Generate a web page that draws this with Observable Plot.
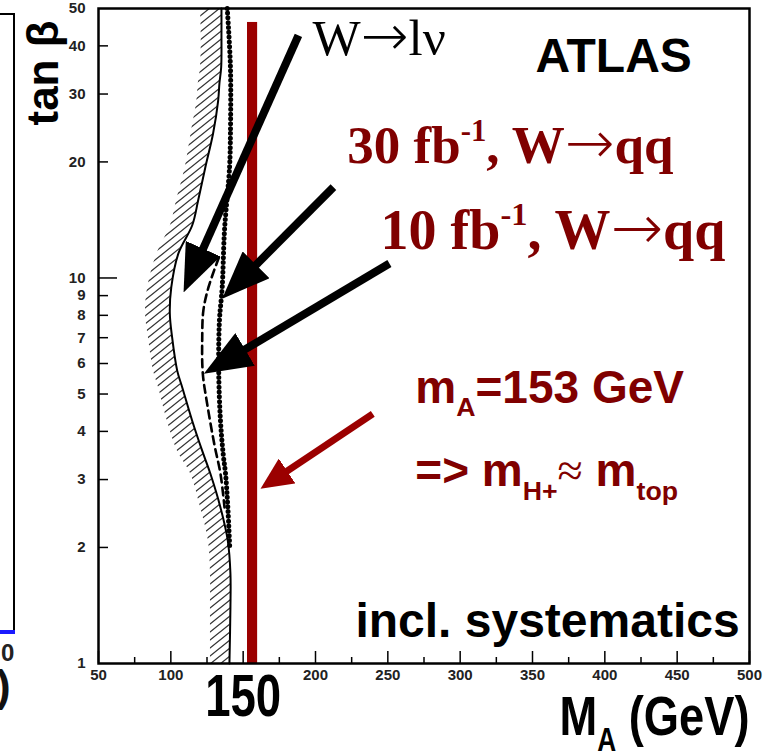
<!DOCTYPE html>
<html><head><meta charset="utf-8">
<script src="https://cdn.jsdelivr.net/npm/d3@7"></script>
<script src="https://cdn.jsdelivr.net/npm/@observablehq/plot@0.6"></script>
<style>
html,body{margin:0;padding:0;background:#fff;}
#wrap{position:relative;width:766px;height:753px;overflow:hidden;background:#fff;}
#wrap svg{position:absolute;left:0;top:0;}
.frag{position:absolute;z-index:2;font-family:"Liberation Sans",Arial,sans-serif;font-weight:bold;line-height:1;}
</style></head><body>
<div id="wrap">
<div class="frag" style="left:13px;top:13px;width:2px;height:620px;background:#000"></div>
<div class="frag" style="left:0;top:13px;width:15px;height:2px;background:#000"></div>
<div class="frag" style="left:0;top:630px;width:15px;height:4px;background:#1a1aff"></div>
<span class="frag" style="left:1px;top:641px;font-size:24px;color:#222">0</span>
<span class="frag" style="left:-4px;top:664px;font-size:44px;color:#111">)</span>
</div>
<script>
// ---- axis ticks / labels ----
const tanbTicks = [1,2,3,4,5,6,7,8,9,10,20,30,40,50];
const ySmallTicks = [2,3,4,5,6,7,8,9,20,30,40];
const yBigTicks = [10];
const maTickLabels = [50,100,200,250,300,350,400,450,500];
const maMajorTicks = [50,100,150,200,250,300,350,400,450,500];
const maMinorTicks = [75,125,175,225,275,325,375,425,475];
const bigTick = [150];

// ---- W -> l nu contour (solid) and hatch edge ----
const lnuTanb = [50,43.1,35.2,32,28.8,23.7,19.4,15.9,13.7,11.6,9.45,8.09,7.01,5.75,5.2,4.27,3.57,3.11,2.54,2.08,1.71,1.40,1.0];
const lnuMA   = [135,135,134.8,133.6,132.7,129.2,123.9,118.9,114.8,105.3,100.3,99.3,100.9,104.4,107.9,114.7,121.6,127.3,134.3,139.4,141.2,141.2,140.5];
const hatchMA = [120.5,121,120.5,119,118,114,110,104,99.8,90.6,84,82.5,84.5,88,91.5,97.5,104.4,113.6,120.5,126,127.4,127.4,127.4];

// ---- 10 fb-1, W -> qq (dashed) ----
const qq10Tanb = [11.3,9.45,8.24,7.01,5.65,4.72,3.68,3.11,2.54];
const qq10MA   = [133.2,126.0,122.5,121.7,122.1,125.1,130.2,134.3,137.1];

// ---- 30 fb-1, W -> qq (dotted) ----
const qq30Tanb = [50,35.2,23.7,19.4,13.3,9.45,7.76,5.75,4.27,3.46,3.11,2.54,2.0];
const qq30MA   = [139.0,141.2,141.2,140.6,137.1,135.5,133.6,133.1,134.3,136.3,137.8,139.4,140.7];

// ---- m_A = 153 GeV band ----
const bandMA = [153, 160];
const bandTanb = [1, 46];

// ---- arrows ----
const arrowFromMA   = [188.2, 212.4, 251.1];
const arrowFromTanb = [42.6, 17.2, 10.9];
const arrowToMA     = [108.8, 135.5, 122.8];
const arrowToTanb   = [9.17, 8.83, 5.64];
const redArrowFrom = [239.6, 4.44];
const redArrowTo   = [162.0, 2.84];

// ---- annotations ----
const noteText = ["W→lν", "ATLAS", "30 fb^{-1}, W→qq", "10 fb^{-1}, W→qq", "m_{A}=153 GeV", "=> m_{H+}≈ m_{top}", "incl. systematics"];
const noteMA   = [198, 352, 222, 245, 269, 269, 227.6];
const noteTanb = [37.8, 34.2, 19.9, 11.9, 4.75, 2.88, 1.168];

const sans = "Liberation Sans, Arial, Helvetica, sans-serif";
const serif = "Liberation Serif, Times New Roman, serif";
const darkRed = "#800000";
const barRed = "#9b0000";

const lnu = lnuTanb.map((t,i)=>({t, m: lnuMA[i], h: hatchMA[i]}));
const qq10 = qq10Tanb.map((t,i)=>({t, m: qq10MA[i]}));
const qq30 = qq30Tanb.map((t,i)=>({t, m: qq30MA[i]}));
const band = [{x1: bandMA[0], x2: bandMA[1], y1: bandTanb[0], y2: bandTanb[1]}];
const blackArrows = arrowFromMA.map((m,i)=>({x1:m, y1:arrowFromTanb[i], x2:arrowToMA[i], y2:arrowToTanb[i]}));
const redArrows = [{x1:redArrowFrom[0], y1:redArrowFrom[1], x2:redArrowTo[0], y2:redArrowTo[1]}];
const notes = noteText.map((s,i)=>({s, m: noteMA[i], t: noteTanb[i]}));

function note(i, opts){
  return Plot.text([notes[i]], Object.assign({x:"m", y:"t", text:"s", textAnchor:"start", lineAnchor:"bottom"}, opts));
}

const svg = Plot.plot({
  width: 766, height: 753,
  marginLeft: 98, marginRight: 17, marginTop: 8, marginBottom: 90,
  x: {domain: [50, 500], axis: null},
  y: {type: "log", domain: [1, 50], axis: null},
  style: {fontFamily: sans, background: "white", overflow: "visible"},
  marks: [
    Plot.areaX(lnu, {y: "t", x1: "h", x2: "m", fill: "url(#hatch)", curve: "catmull-rom"}),
    Plot.rect(band, {x1: "x1", x2: "x2", y1: "y1", y2: "y2", fill: barRed}),
    Plot.line(lnu, {x: "m", y: "t", stroke: "black", strokeWidth: 2, curve: "catmull-rom"}),
    Plot.line(qq10, {x: "m", y: "t", stroke: "black", strokeWidth: 2.6, strokeDasharray: "8,5", curve: "catmull-rom"}),
    Plot.line(qq30, {x: "m", y: "t", stroke: "black", strokeWidth: 5, strokeDasharray: "0,4.8", strokeLinecap: "round", curve: "catmull-rom"}),
    Plot.link(blackArrows, {x1: "x1", y1: "y1", x2: "x2", y2: "y2", stroke: "black", strokeWidth: 8, strokeLinecap: "butt"}),
    Plot.link(redArrows, {x1: "x1", y1: "y1", x2: "x2", y2: "y2", stroke: barRed, strokeWidth: 7, strokeLinecap: "butt"}),
    // inward ticks
    Plot.ruleX(maMajorTicks, {x: d => d, insetTop: 643, stroke: "black", strokeWidth: 1.5}),
    Plot.ruleX(maMinorTicks, {x: d => d, insetTop: 649, stroke: "black", strokeWidth: 1.5}),
    Plot.ruleY(ySmallTicks, {y: d => d, insetRight: 641, stroke: "black", strokeWidth: 1.5}),
    Plot.ruleY(yBigTicks, {y: d => d, insetRight: 632, stroke: "black", strokeWidth: 1.5}),
    Plot.frame({stroke: "black", strokeWidth: 2.5}),
    // tick labels
    Plot.text(tanbTicks, {y: d => d, text: d => String(d), frameAnchor: "left", dx: -13, textAnchor: "end", fontSize: 15, fontWeight: "bold", fill: "#222"}),
    Plot.text(maTickLabels, {x: d => d, text: d => String(d), frameAnchor: "bottom", dy: 16, fontSize: 15, fontWeight: "bold", fill: "#222"}),
    Plot.text(bigTick, {x: d => d, text: d => String(d), frameAnchor: "bottom", dy: 52, fontSize: 60, fontWeight: "bold", fill: "#000"}),
    // axis titles
    Plot.text(["M_{A} (GeV)"], {text: d => d, frameAnchor: "bottom-right", textAnchor: "end", lineAnchor: "bottom", dx: 0, dy: 71, fontSize: 56, fontWeight: "bold", fill: "#000"}),
    Plot.text(["tan β"], {text: d => d, frameAnchor: "top-left", rotate: -90, textAnchor: "start", lineAnchor: "bottom", dx: -41, dy: 117, fontSize: 44, fontWeight: "bold", fill: "#000"}),
    // annotations
    note(0, {fontSize: 51, fontFamily: serif, fill: "#000"}),
    note(1, {fontSize: 48, fontWeight: "bold", fontFamily: sans, fill: "#000"}),
    note(2, {fontSize: 53, fontWeight: "bold", fontFamily: serif, fill: darkRed}),
    note(3, {fontSize: 56, fontWeight: "bold", fontFamily: serif, fill: darkRed}),
    note(4, {fontSize: 46, fontWeight: "bold", fontFamily: sans, fill: darkRed}),
    note(5, {fontSize: 46, fontWeight: "bold", fontFamily: sans, fill: darkRed}),
    note(6, {fontSize: 48, fontWeight: "bold", fontFamily: sans, fill: "#000"})
  ]
});

const wrap = document.getElementById("wrap");
wrap.insertBefore(svg, wrap.firstChild);

// defs: hatch pattern and arrowheads
const defs = d3.select(svg).insert("defs", ":first-child");
const pat = defs.append("pattern").attr("id", "hatch").attr("patternUnits", "userSpaceOnUse")
  .attr("width", 10).attr("height", 8);
pat.append("path").attr("d", "M0,8L10,0M-2,1.6L2,-1.6M8,9.6L12,6.4")
  .attr("stroke", "#333").attr("stroke-width", 1.3).attr("fill", "none");
function head(id, L, W, color){
  defs.append("marker").attr("id", id).attr("markerUnits", "userSpaceOnUse")
    .attr("viewBox", `0 0 ${L} ${W}`).attr("markerWidth", L).attr("markerHeight", W)
    .attr("refX", L).attr("refY", W/2).attr("orient", "auto")
    .append("path").attr("d", `M0,0L${L},${W/2}L0,${W}Z`).attr("fill", color);
}
head("headBlack", 48, 38, "black");
head("headRed", 32, 30, barRed);

d3.select(svg).selectAll('g[aria-label="link"] path').each(function(){
  const col = getComputedStyle(this).stroke;
  const red = col !== "rgb(0, 0, 0)";
  const L = this.getTotalLength();
  const hl = red ? 32 : 48;
  this.setAttribute("stroke-dasharray", `${L - hl + 6} ${L + 60}`);
  this.setAttribute("marker-end", red ? "url(#headRed)" : "url(#headBlack)");
});

// rich text: _{sub}, ^{sup}, thin math symbols
const NS = "http://www.w3.org/2000/svg";
d3.select(svg).selectAll("text").each(function(){
  const s = this.textContent;
  if (!/[_^]\{|→|≈/.test(s)) return;
  const fs = parseFloat(getComputedStyle(this).fontSize);
  const parts = s.split(/([_^]\{[^}]*\}|→|≈)/).filter(p => p.length);
  this.textContent = "";
  let cur = 0;
  for (const p of parts) {
    let txt = p, target = 0, size = null, fam = null, w = null;
    if (p.startsWith("_{")) { txt = p.slice(2, -1); target = 0.3 * fs; size = 0.58 * fs; }
    else if (p.startsWith("^{")) { txt = p.slice(2, -1); target = -0.42 * fs; size = 0.58 * fs; }
    else if (p === "→") { size = 1.12 * fs; fam = "DejaVu Sans"; w = "200"; }
    else if (p === "≈") { size = 1.0 * fs; fam = "DejaVu Sans"; w = "200"; }
    const ts = document.createElementNS(NS, "tspan");
    ts.setAttribute("dy", (target - cur) + "px");
    if (size) ts.setAttribute("font-size", size + "px");
    if (fam) { ts.setAttribute("font-family", fam); ts.setAttribute("font-weight", w); }
    ts.textContent = txt;
    this.appendChild(ts);
    cur = target;
  }
});

// condensed lettering of the axis title and the big 150 label
d3.select(svg).selectAll("text").each(function(){
  const s = this.textContent;
  if (s === "150") { this.setAttribute("textLength", 76); this.setAttribute("lengthAdjust", "spacingAndGlyphs"); }
  if (s === "MA (GeV)") { this.setAttribute("textLength", 190); this.setAttribute("lengthAdjust", "spacingAndGlyphs"); }
});
</script>
</body></html>
